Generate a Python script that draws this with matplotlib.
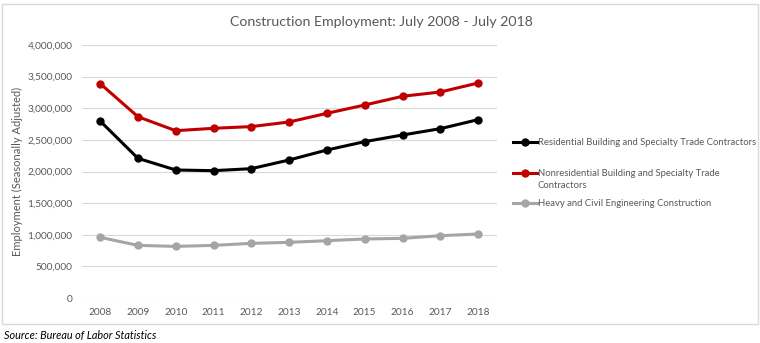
import matplotlib
matplotlib.use("Agg")
import matplotlib.pyplot as plt
from matplotlib.patches import Rectangle
from matplotlib.lines import Line2D
from matplotlib.ticker import FuncFormatter

years = [2008, 2009, 2010, 2011, 2012, 2013, 2014, 2015, 2016, 2017, 2018]
residential = [2798000, 2208000, 2024000, 2013000, 2045000, 2182000, 2340000, 2472000, 2577000, 2677000, 2820000]
nonresidential = [3390000, 2866000, 2645000, 2683000, 2710000, 2783000, 2920000, 3051000, 3189000, 3257000, 3399000]
heavy_civil = [959000, 832000, 816000, 832000, 864000, 880000, 906000, 933000, 943000, 985000, 1012000]

series_names = ["Residential Building and Specialty Trade Contractors",
                "Nonresidential Building and Specialty Trade\nContractors",
                "Heavy and Civil Engineering Construction"]
series_colors = ["#000000", "#C00000", "#A5A5A5"]
title = "Construction Employment: July 2008 - July 2018"
ylabel = "Employment (Seasonally Adjusted)"
source = "Source: Bureau of Labor Statistics"

plt.rcParams['font.family'] = ['Lato', 'DejaVu Sans']
txt = "#595959"

W, H = 760, 343
fig = plt.figure(figsize=(W / 100, H / 100), dpi=100)

def fx(px):
    return px / W

def fy(py):
    return 1 - py / H

# chart border
fig.patches.append(Rectangle((fx(2), fy(324)), 756 / W, 320 / H, transform=fig.transFigure,
                             fill=False, edgecolor="#D9D9D9", linewidth=1.0))

ax = fig.add_axes([fx(82), fy(298), (497 - 82) / W, (298 - 45) / H])
for data, name, col in zip([residential, nonresidential, heavy_civil], series_names, series_colors):
    ax.plot(years, data, color=col, lw=2.2, marker="o", ms=5, label=name, zorder=3)

ax.set_ylim(0, 4000000)
ax.set_yticks(range(0, 4000001, 500000))
ax.yaxis.set_major_formatter(FuncFormatter(lambda v, p: f"{int(v):,}"))
ax.set_xlim(2007.52, 2018.5)
ax.set_xticks(years)
ax.grid(axis="y", color="#D9D9D9", lw=0.8)
ax.set_axisbelow(True)
for s in ax.spines.values():
    s.set_visible(False)
ax.tick_params(length=0, colors=txt, labelsize=7.3, pad=7)
ax.set_ylabel(ylabel, color=txt, fontsize=8, labelpad=3)

fig.text(fx(381), fy(22), title, ha="center", va="center", fontsize=10.2, color=txt)

# legend (manual layout)
legend_rows = [142, 173, 203]
for row_y, name, col in zip(legend_rows, series_names, series_colors):
    fig.add_artist(Line2D([fx(513), fx(537)], [fy(row_y), fy(row_y)], transform=fig.transFigure,
                          color=col, lw=2.2))
    fig.add_artist(Line2D([fx(525)], [fy(row_y)], transform=fig.transFigure,
                          color=col, marker="o", ms=5, lw=0))
    fig.text(fx(538), fy(row_y - 4), name, ha="left", va="top", fontsize=6.8,
             color=txt, linespacing=1.45)

fig.text(fx(4), fy(335), source, ha="left", va="center", fontsize=7.8, style="italic", color="#000000")

fig.savefig("out.png", dpi=100)
